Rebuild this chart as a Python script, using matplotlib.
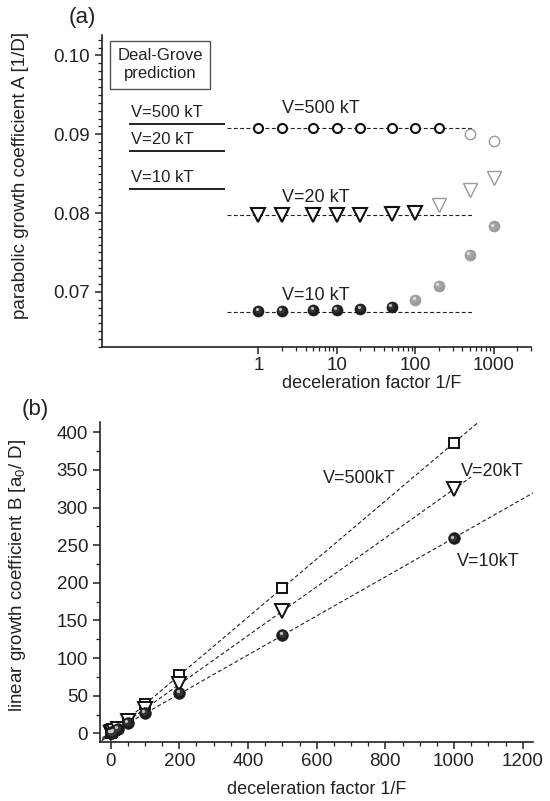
import numpy as np
import matplotlib
matplotlib.use("Agg")
import matplotlib.pyplot as plt
from matplotlib.transforms import offset_copy
from matplotlib.ticker import FixedLocator, NullFormatter, MultipleLocator

plt.rcParams['font.family'] = ['Liberation Sans', 'DejaVu Sans']
plt.rcParams['mathtext.default'] = 'regular'

# ---------------- data panel (a) ----------------
xa = [1, 2, 5, 10, 20, 50, 100, 200, 500, 1000]
A_500 = [0.09076, 0.09076, 0.09076, 0.09076, 0.09076, 0.09076, 0.09076, 0.09076, 0.09009, 0.08915]
A_20 = [0.07975, 0.07975, 0.07975, 0.07977, 0.07978, 0.07985, 0.0800, 0.0810, 0.0829, 0.0845]
A_10 = [0.06760, 0.06762, 0.06767, 0.06771, 0.06783, 0.06813, 0.0690, 0.07076, 0.07471, 0.0783]
n_black_500, n_black_20, n_black_10 = 8, 7, 6
A_fit = {'500': 0.09076, '20': 0.07978, '10': 0.0675}
fit_range_a = [0.4, 560]
DG_vals = [0.09127, 0.08783, 0.0830]
DG_labels = ['V=500 kT', 'V=20 kT', 'V=10 kT']
DG_x = [0.0225, 0.37]

# ---------------- data panel (b) ----------------
xb = [1, 2, 5, 10, 20, 50, 100, 200, 500, 1000]
B_500 = [0.4, 0.8, 2, 4, 8, 19, 39, 77, 193, 386]
B_20 = [0.33, 0.65, 1.6, 3.3, 6.5, 16, 33, 66, 163, 324]
B_10 = [0.27, 0.55, 1.4, 2.7, 5.5, 13.5, 27, 54, 131, 259]
fit_end_b = {'500': 1085, '20': 1050, '10': 1230}

fig = plt.figure(figsize=(5.5, 8.01), dpi=100)
W, H = 550.0, 801.0
ax1 = fig.add_axes([101.7 / W, 1 - 347 / H, (531 - 101.7) / W, (347 - 35) / H])
ax2 = fig.add_axes([100 / W, 1 - 741.7 / H, (533 - 100) / W, (741.7 - 421.7) / H])

FS = 13
TFS = 13.5
dash = (0, (3.5, 2.2))
TXT = '#222222'


def style(ax):
    for s in ['top', 'right']:
        ax.spines[s].set_visible(False)
    for s in ['left', 'bottom']:
        ax.spines[s].set_linewidth(1.2)
        ax.spines[s].set_color(TXT)
    ax.tick_params(which='major', direction='out', length=5, width=1.1, labelsize=TFS,
                   colors=TXT)
    ax.tick_params(which='minor', direction='out', length=3, width=0.9, colors=TXT)


def balls(ax, x, y, base, mid, hi, ms):
    ax.plot(x, y, 'o', ms=ms, mfc=base, mec=base, mew=0.4, ls='none', zorder=4)
    tr = offset_copy(ax.transData, fig=fig, x=-0.8, y=0.8, units='dots')
    ax.plot(x, y, 'o', ms=ms * 0.6, mfc=mid, mec='none', ls='none', transform=tr,
            zorder=5, alpha=0.8)
    tr2 = offset_copy(ax.transData, fig=fig, x=-1.6, y=1.8, units='dots')
    ax.plot(x, y, 'o', ms=ms * 0.28, mfc=hi, mec='none', ls='none', transform=tr2,
            zorder=6, alpha=0.9)


# ---------------- panel (a) ----------------
style(ax1)
ax1.set_xscale('log')
ax1.set_xlim(0.01, 3000)
ax1.set_ylim(0.0630, 0.1026)
ax1.xaxis.set_major_locator(FixedLocator([1, 10, 100, 1000]))
ax1.set_xticklabels(['1', '10', '100', '1000'])
minors = [m * d for d in [1, 10, 100, 1000] for m in range(2, 10) if m * d <= 3000]
ax1.xaxis.set_minor_locator(FixedLocator(minors))
ax1.xaxis.set_minor_formatter(NullFormatter())
ax1.yaxis.set_major_locator(FixedLocator([0.07, 0.08, 0.09, 0.10]))
ax1.set_yticklabels(['0.07', '0.08', '0.09', '0.10'])
ax1.yaxis.set_minor_locator(MultipleLocator(0.001))
ax1.tick_params(axis='x', pad=2)

for key in ['500', '20', '10']:
    ax1.plot(fit_range_a, [A_fit[key]] * 2, color=TXT, lw=0.8, ls=dash, zorder=2)

ax1.plot(xa[:n_black_500], A_500[:n_black_500], 'o', ms=6.5, mfc='white', mec='#111111',
         mew=1.5, ls='none', zorder=4)
ax1.plot(xa[n_black_500:], A_500[n_black_500:], 'o', ms=7.5, mfc='white', mec='#9a9a9a',
         mew=1.0, ls='none', zorder=4)
ax1.plot(xa[:n_black_20], A_20[:n_black_20], 'v', ms=9.5, mfc='white', mec='#111111',
         mew=1.5, ls='none', zorder=4)
ax1.plot(xa[n_black_20:], A_20[n_black_20:], 'v', ms=10, mfc='white', mec='#9a9a9a',
         mew=1.0, ls='none', zorder=4)
balls(ax1, xa[:n_black_10], A_10[:n_black_10], '#1c1c1c', '#3a3a3a', '#cfcfcf', 8)
balls(ax1, xa[n_black_10:], A_10[n_black_10:], '#9c9c9c', '#aaaaaa', '#e8e8e8', 8)

ax1.text(1.97, 0.09321, 'V=500 kT', fontsize=FS, ha='left', va='center', color=TXT)
ax1.text(1.97, 0.0820, 'V=20 kT', fontsize=FS, ha='left', va='center', color=TXT)
ax1.text(1.97, 0.0695, 'V=10 kT', fontsize=FS, ha='left', va='center', color=TXT)

for val, lab in zip(DG_vals, DG_labels):
    ax1.plot(DG_x, [val, val], color=TXT, lw=1.4, solid_capstyle='butt')
    ax1.annotate(lab, (DG_x[0], val), xytext=(1.5, 3), textcoords='offset points',
                 fontsize=12, ha='left', va='bottom', color=TXT)

ax1.text(0.136, 0.905, 'Deal-Grove\nprediction', transform=ax1.transAxes, fontsize=12,
         ha='center', va='center', color=TXT, linespacing=1.25,
         bbox=dict(boxstyle='square,pad=0.45', fc='white', ec='#555555', lw=1.0))

ax1.set_ylabel('parabolic growth coefficient A [1/D]', fontsize=13.5, color=TXT)
ax1.yaxis.set_label_coords(-0.17, 0.55)
ax1.set_xlabel('deceleration factor 1/F', fontsize=FS, color=TXT)
ax1.xaxis.set_label_coords(0.63, -0.09)

fig.text(82 / W, 1 - 17 / H, '(a)', fontsize=16, ha='center', va='center', color=TXT)

# ---------------- panel (b) ----------------
style(ax2)
ax2.set_xlim(-31, 1230)
ax2.set_ylim(-11, 414)
ax2.xaxis.set_major_locator(MultipleLocator(200))
ax2.xaxis.set_minor_locator(MultipleLocator(50))
ax2.yaxis.set_major_locator(MultipleLocator(50))
ax2.yaxis.set_minor_locator(MultipleLocator(25))
ax2.tick_params(axis='x', pad=3)

for key, yv in [('500', B_500), ('20', B_20), ('10', B_10)]:
    k, b = np.polyfit(xb, yv, 1)
    xx = np.array([-40, fit_end_b[key]])
    ax2.plot(xx, k * xx + b, color=TXT, lw=0.8, ls=dash, zorder=2)

ax2.plot(xb, B_500, 's', ms=7.5, mfc='white', mec='#111111', mew=1.4, ls='none', zorder=4)
ax2.plot(xb, B_20, 'v', ms=10, mfc='white', mec='#111111', mew=1.4, ls='none', zorder=4)
balls(ax2, xb, B_10, '#1c1c1c', '#3a3a3a', '#cfcfcf', 8.5)

ax2.text(723, 339, 'V=500kT', fontsize=FS, ha='center', va='center', color=TXT)
ax2.text(1112, 348, 'V=20kT', fontsize=FS, ha='center', va='center', color=TXT)
ax2.text(1100, 228, 'V=10kT', fontsize=FS, ha='center', va='center', color=TXT)

ax2.set_ylabel('linear growth coefficient B [a$_0$/ D]', fontsize=13.5, color=TXT)
ax2.yaxis.set_label_coords(-0.166, 0.52)
ax2.set_xlabel('deceleration factor 1/F', fontsize=FS, color=TXT)
ax2.xaxis.set_label_coords(0.5, -0.123)

fig.text(35 / W, 1 - 410 / H, '(b)', fontsize=16, ha='center', va='center', color=TXT)

fig.savefig('out.png', dpi=100)
